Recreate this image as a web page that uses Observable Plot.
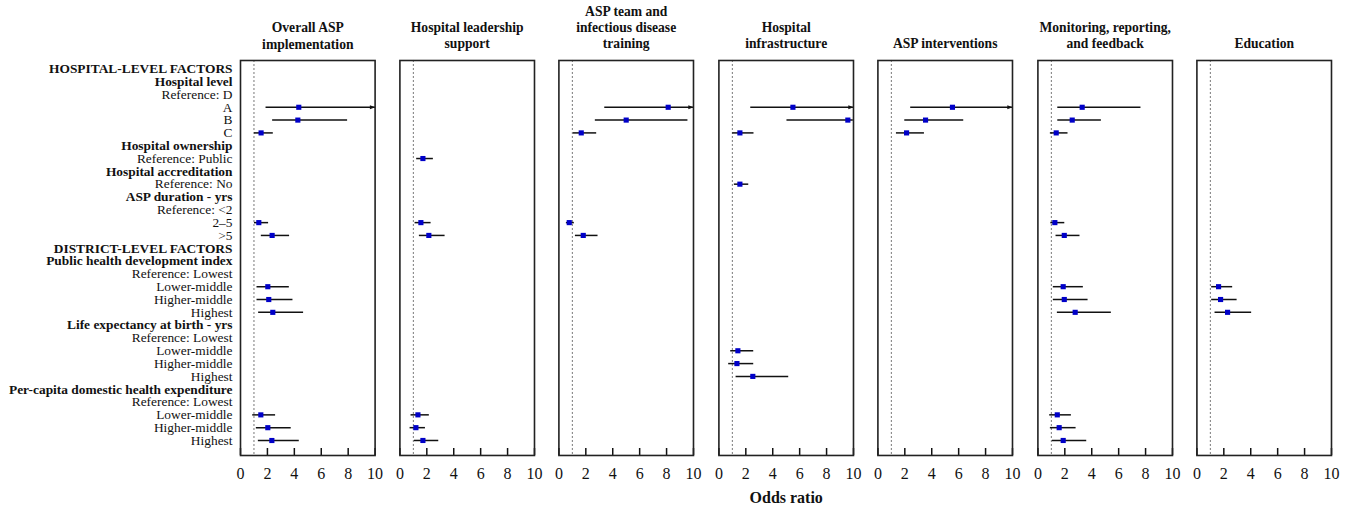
<!DOCTYPE html>
<html><head><meta charset="utf-8">
<script src="https://cdn.jsdelivr.net/npm/d3@7"></script>
<script src="https://cdn.jsdelivr.net/npm/@observablehq/plot@0.6"></script>
<style>
html,body{margin:0;padding:0;background:#fff;}
#chart{position:relative;width:1349px;height:507px;overflow:hidden;}
#chart svg{position:absolute;top:0;}
</style></head><body><div id="chart"></div>
<script>
// ---- Data ----
const rowLabels = [
  "HOSPITAL-LEVEL FACTORS", "Hospital level", "Reference: D", "A", "B", "C",
  "Hospital ownership", "Reference: Public", "Hospital accreditation", "Reference: No",
  "ASP duration - yrs", "Reference: <2", "2\u20135", ">5",
  "DISTRICT-LEVEL FACTORS", "Public health development index", "Reference: Lowest",
  "Lower-middle", "Higher-middle", "Highest",
  "Life expectancy at birth - yrs", "Reference: Lowest", "Lower-middle", "Higher-middle", "Highest",
  "Per-capita domestic health expenditure", "Reference: Lowest", "Lower-middle", "Higher-middle", "Highest"
];
const headingRows = [0, 1, 6, 8, 10, 14, 15, 20, 25];
const panelTitles = [
  "Overall ASP\nimplementation",
  "Hospital leadership\nsupport",
  "ASP team and\ninfectious disease\ntraining",
  "Hospital\ninfrastructure",
  "ASP interventions",
  "Monitoring, reporting,\nand feedback",
  "Education"
];
const xTicks = [0, 2, 4, 6, 8, 10];
const xLabel = "Odds ratio";
// [row index, odds ratio, lower CI, upper CI]; upper null = beyond the axis (arrow)
const overallASP = [
  [3, 4.33, 1.86, null], [4, 4.26, 2.35, 7.92], [5, 1.53, 1.0, 2.4],
  [12, 1.36, 1.0, 2.05], [13, 2.35, 1.51, 3.61],
  [17, 2.03, 1.19, 3.59], [18, 2.10, 1.19, 3.86], [19, 2.40, 1.31, 4.65],
  [27, 1.51, 0.87, 2.57], [28, 2.03, 1.14, 3.73], [29, 2.33, 1.29, 4.33]
];
const leadershipSupport = [
  [7, 1.71, 1.21, 2.45],
  [12, 1.56, 1.09, 2.28], [13, 2.15, 1.41, 3.32],
  [27, 1.34, 0.79, 2.15], [28, 1.19, 0.72, 1.86], [29, 1.71, 1.04, 2.85]
];
const teamTraining = [
  [3, 8.12, 3.37, null], [4, 5.0, 2.67, 9.55], [5, 1.66, 1.04, 2.77],
  [12, 0.77, 0.52, 1.11], [13, 1.81, 1.19, 2.87]
];
const infrastructure = [
  [3, 5.50, 2.33, null], [4, 9.58, 5.02, 9.95], [5, 1.56, 0.99, 2.57],
  [9, 1.56, 1.11, 2.18],
  [22, 1.41, 0.84, 2.55], [23, 1.34, 0.69, 2.55], [24, 2.52, 1.24, 5.15]
];
const interventions = [
  [3, 5.54, 2.40, null], [4, 3.54, 1.96, 6.34], [5, 2.13, 1.34, 3.42]
];
const monitoring = [
  [3, 3.29, 1.44, 7.62], [4, 2.55, 1.44, 4.68], [5, 1.36, 0.89, 2.20],
  [12, 1.26, 0.92, 1.96], [13, 1.96, 1.31, 3.09],
  [17, 1.88, 1.11, 3.34], [18, 1.96, 1.11, 3.69], [19, 2.77, 1.41, 5.42],
  [27, 1.44, 0.84, 2.45], [28, 1.58, 0.89, 2.80], [29, 1.88, 1.04, 3.59]
];
const education = [
  [17, 1.61, 1.06, 2.62], [18, 1.76, 1.06, 2.95], [19, 2.28, 1.31, 4.03]
];
const panelData = [overallASP, leadershipSupport, teamTraining, infrastructure, interventions, monitoring, education];

// ---- Layout ----
const FONT = '"Liberation Serif", "Times New Roman", Times, serif';
const H = 507, mTop = 60, mBottom = 52;
const frameLeft = 240, frameRight = 1331;
const panelW = 134.6;
const gap = (frameRight - frameLeft - 7 * panelW) / 6;
const half = gap / 2;
const xMax = xTicks[xTicks.length - 1];
const frameH = H - mTop - mBottom;

const arrowHead = {
  draw(ctx, size) {
    const r = Math.sqrt(size / Math.PI);
    ctx.moveTo(0, 0);
    ctx.lineTo(-2 * r, -0.75 * r);
    ctx.lineTo(-2 * r, 0.75 * r);
    ctx.closePath();
  }
};

const chart = document.getElementById("chart");
panelData.forEach((data, i) => {
  const mL = i === 0 ? frameLeft : half;
  const mR = half;
  const left = frameLeft + i * (panelW + gap) - mL;
  const marks = [
    Plot.ruleX([1], {stroke: "#777", strokeDasharray: "2,2", strokeWidth: 1}),
    Plot.tickX(xTicks, {x: d => d, stroke: "#111", strokeWidth: 1.5, insetTop: frameH - 7}),
    Plot.link(data, {
      x1: d => d[2], x2: d => d[3] == null ? xMax : d[3],
      y1: d => d[0], y2: d => d[0],
      stroke: "#111", strokeWidth: 1.5
    }),
    Plot.dot(data.filter(d => d[3] == null), {
      x: () => xMax, y: d => d[0], symbol: arrowHead, r: 2.6, fill: "#111", stroke: "none"
    }),
    Plot.dot(data, {x: d => d[1], y: d => d[0], symbol: "square", r: 2.9, fill: "#0000c8", stroke: "none"}),
    Plot.frame({stroke: "#222", strokeWidth: 1.6}),
    Plot.text([panelTitles[i]], {
      text: d => d, frameAnchor: "top", dy: -12, lineAnchor: "bottom",
      fontWeight: "bold", fontSize: 13.6, lineHeight: 1.18, fill: "#111"
    })
  ];
  if (i === 0) {
    const idx = rowLabels.map((_, k) => k);
    marks.push(
      Plot.text(idx.filter(k => !headingRows.includes(k)), {
        y: k => k, text: k => rowLabels[k], frameAnchor: "left", textAnchor: "end",
        dx: -8, fontSize: 13.4, fill: "#111"
      }),
      Plot.text(idx.filter(k => headingRows.includes(k)), {
        y: k => k, text: k => rowLabels[k], frameAnchor: "left", textAnchor: "end",
        dx: -8, fontSize: 13.4, fontWeight: "bold", fill: "#111"
      })
    );
  }
  if (i === 3) {
    marks.push(Plot.text([xLabel], {
      text: d => d, frameAnchor: "bottom", dy: 42, lineAnchor: "middle",
      fontWeight: "bold", fontSize: 16, fill: "#111"
    }));
  }
  const svg = Plot.plot({
    width: mL + panelW + mR,
    height: H,
    marginLeft: mL, marginRight: mR, marginTop: mTop, marginBottom: mBottom,
    style: {fontFamily: FONT, fontSize: "16px", color: "#111", background: "transparent", overflow: "visible"},
    x: {domain: [0, xMax], ticks: xTicks, tickSize: 0, tickPadding: 12, label: null},
    y: {domain: [-0.65, 30.17], reverse: true, axis: null},
    marks
  });
  svg.style.left = left + "px";
  chart.appendChild(svg);
});
</script>
</body></html>
